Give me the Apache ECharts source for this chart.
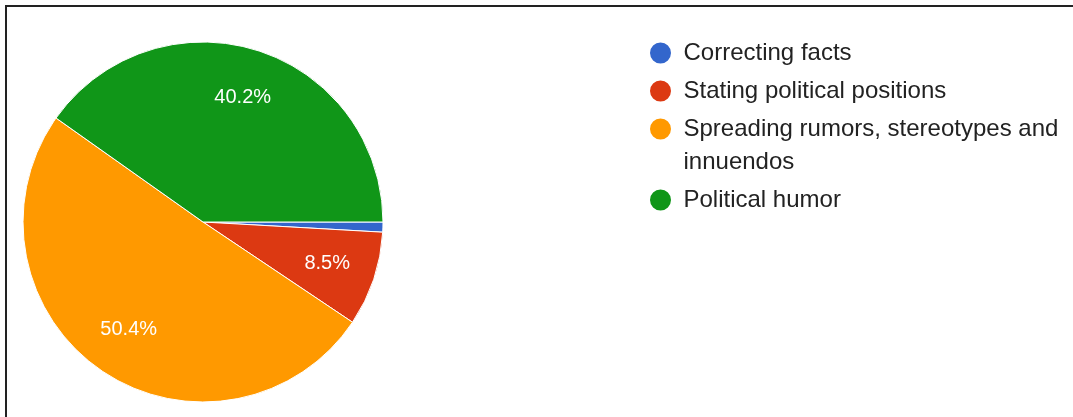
<!DOCTYPE html>
<html>
<head>
<meta charset="utf-8">
<script src="https://cdn.jsdelivr.net/npm/echarts@6/dist/echarts.min.js"></script>
<style>
  html, body { margin: 0; padding: 0; background: #fff; }
  #chart { width: 1073px; height: 417px; }
</style>
</head>
<body>
<div id="chart"></div>
<script>
// slices, clockwise from 3 o'clock
const categories = [
  'Correcting facts',
  'Stating political positions',
  'Spreading rumors, stereotypes and innuendos',
  'Political humor'
];
const shares = [0.9, 8.5, 50.4, 40.2];
const colors = ['#3366cc', '#dc3912', '#ff9900', '#109618'];

const pieData = categories.map((name, i) => ({ name: name, value: shares[i] }));

const font = 'Arial, "Liberation Sans", sans-serif';

// one legend per row so the wrapped entry keeps its dot on the first line
const legendTops = [36.5, 74.5, 79.5, 183.5];
const legends = categories.map((name, i) => {
  const wrapped = name.indexOf('innuendos') >= 0;
  return {
    data: [name],
    left: 648,
    top: legendTops[i],
    padding: 0,
    icon: 'circle',
    itemWidth: 36,
    itemHeight: 23,
    selectedMode: false,
    // blank first line pushes the wrapped text down so its first line sits on the dot
    formatter: wrapped ? (n) => ' \n' + n.replace(' innuendos', '\ninnuendos') : '{name}',
    textStyle: {
      fontFamily: font,
      fontSize: 24,
      color: '#222',
      lineHeight: 33
    }
  };
});

const chart = echarts.init(document.getElementById('chart'));
chart.setOption({
  animation: false,
  color: colors,
  legend: legends,
  graphic: [
    { type: 'line', shape: { x1: 5, y1: 6, x2: 1073, y2: 6 }, style: { stroke: '#222', lineWidth: 2 } },
    { type: 'line', shape: { x1: 6, y1: 5, x2: 6, y2: 417 }, style: { stroke: '#222', lineWidth: 2 } }
  ],
  series: [
    {
      type: 'pie',
      center: [203, 222],
      radius: 180,
      startAngle: 0,
      clockwise: true,
      data: pieData,
      label: { show: false },
      labelLine: { show: false },
      itemStyle: { borderColor: '#fff', borderWidth: 1 },
      emphasis: { disabled: true },
      silent: true
    },
    {
      // label-only ring, puts percentages at about 0.7 of the radius
      type: 'pie',
      center: [203, 222],
      radius: [76, 180],
      startAngle: 0,
      clockwise: true,
      data: pieData,
      itemStyle: { color: 'transparent', borderWidth: 0 },
      labelLine: { show: false },
      emphasis: { disabled: true },
      silent: true,
      label: {
        show: true,
        position: 'inside',
        color: '#fff',
        fontFamily: font,
        fontSize: 20,
        formatter: (p) => (p.value < 2 ? '' : p.value.toFixed(1) + '%')
      }
    }
  ]
});
</script>
</body>
</html>
